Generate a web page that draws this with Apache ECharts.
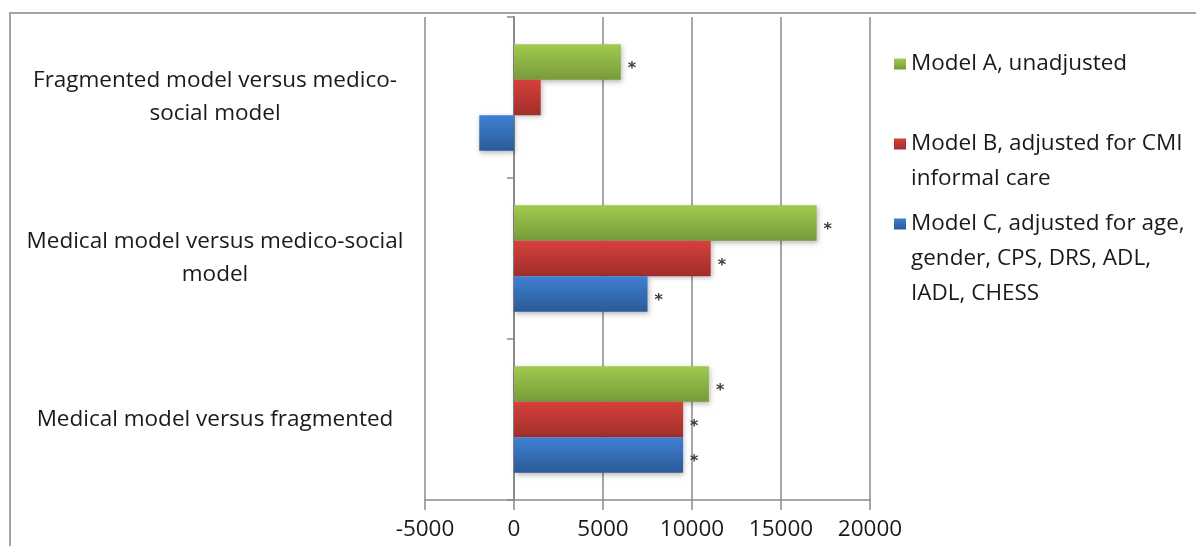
<!DOCTYPE html>
<html>
<head>
<meta charset="utf-8">
<script src="https://cdn.jsdelivr.net/npm/echarts@6/dist/echarts.min.js"></script>
<style>
  html, body { margin: 0; padding: 0; background: #ffffff; }
  #chart { width: 1196px; height: 546px; }
</style>
</head>
<body>
<div id="chart"></div>
<script>
// Comparisons, listed top to bottom
const categories = [
  'Fragmented model versus medico-\nsocial model',
  'Medical model versus medico-social\nmodel',
  'Medical model versus fragmented'
];
const seriesNames = [
  'Model A, unadjusted',
  'Model B, adjusted for CMI\ninformal care',
  'Model C, adjusted for age,\ngender, CPS, DRS, ADL,\nIADL, CHESS'
];
const modelA = [6000, 17000, 10950];
const modelB = [1500, 11050, 9500];
const modelC = [-1950, 7500, 9500];
// 1 = significant difference (marked with an asterisk)
const sigA = [1, 1, 1];
const sigB = [0, 1, 1];
const sigC = [0, 1, 1];
const xTicks = { min: -5000, max: 20000, step: 5000 };

const FONT = 'Open Sans';
const FS = 22.5;
const grad = (top, bottom) => new echarts.graphic.LinearGradient(0, 0, 0, 1, [
  { offset: 0, color: top }, { offset: 1, color: bottom }
]);
const palette = [
  grad('#a0ca4e', '#789a3a'),
  grad('#d6403c', '#a02e2b'),
  grad('#3f80d2', '#2b5a98')
];

function makeSeries(name, values, sig, color) {
  return {
    name: name,
    type: 'bar',
    barGap: '0%',
    barCategoryGap: '34%',
    itemStyle: {
      color: color,
      shadowColor: 'rgba(0,0,0,0.28)',
      shadowBlur: 5,
      shadowOffsetX: 1,
      shadowOffsetY: 2
    },
    data: values.map((v, i) => ({
      value: v,
      label: { show: !!sig[i] }
    })),
    label: {
      position: 'right',
      distance: 7,
      formatter: '*',
      color: '#3a3a3a',
      fontFamily: 'DejaVu Sans',
      fontSize: 16,
      fontWeight: 'bold',
      offset: [0, 7]
    }
  };
}

// Legend entries: the swatch lines up with the first text line, so the
// label is preceded by blank lines that balance the lines below it.
const lineH = 35;
function legendFor(idx, iconCenterY) {
  const ih = 11;
  const nLines = seriesNames[idx].split('\n').length;
  const total = 2 * nLines - 1;
  const above = (total * lineH) / 2 - ih / 2;
  return {
    data: [seriesNames[idx]],
    formatter: (name) => '\n'.repeat(nLines - 1) + name,
    left: 894,
    top: iconCenterY - ih / 2 - above,
    orient: 'vertical',
    padding: 0,
    icon: 'rect',
    itemWidth: 12,
    itemHeight: ih,
    selectedMode: false,
    textStyle: {
      fontFamily: FONT,
      fontSize: FS,
      color: '#1a1a1a',
      lineHeight: lineH
    }
  };
}

const chart = echarts.init(document.getElementById('chart'), null, { renderer: 'canvas' });
chart.setOption({
  animation: false,
  backgroundColor: '#ffffff',
  graphic: [{
    type: 'rect',
    z: -10,
    shape: { x: 10, y: 13, width: 1400, height: 800 },
    style: { fill: 'none', stroke: '#a3a3a3', lineWidth: 2 }
  }],
  grid: { left: 425, right: 326, top: 17, bottom: 46, outerBoundsMode: 'none', containLabel: false },
  legend: [
    legendFor(0, 64),
    legendFor(1, 144),
    legendFor(2, 224)
  ],
  xAxis: {
    type: 'value',
    min: xTicks.min,
    max: xTicks.max,
    interval: xTicks.step,
    axisLine: { show: true, lineStyle: { color: '#8a8a8a', width: 1.5 } },
    axisTick: { show: true, length: 10, lineStyle: { color: '#8a8a8a', width: 1.5 } },
    splitLine: { show: true, lineStyle: { color: '#8a8a8a', width: 1.5 } },
    axisLabel: {
      fontFamily: FONT, fontSize: FS, color: '#1a1a1a', margin: 18,
      formatter: (v) => String(v)
    }
  },
  yAxis: {
    type: 'category',
    inverse: true,
    data: categories,
    axisLine: { show: true, onZero: true, lineStyle: { color: '#8a8a8a', width: 2 } },
    axisTick: { show: true, length: 7, lineStyle: { color: '#8a8a8a', width: 1.5 } },
    axisLabel: {
      fontFamily: FONT, fontSize: FS, color: '#1a1a1a',
      align: 'center', margin: 210, lineHeight: 33
    }
  },
  series: [
    makeSeries(seriesNames[0], modelA, sigA, palette[0]),
    makeSeries(seriesNames[1], modelB, sigB, palette[1]),
    makeSeries(seriesNames[2], modelC, sigC, palette[2])
  ]
});
</script>
</body>
</html>
